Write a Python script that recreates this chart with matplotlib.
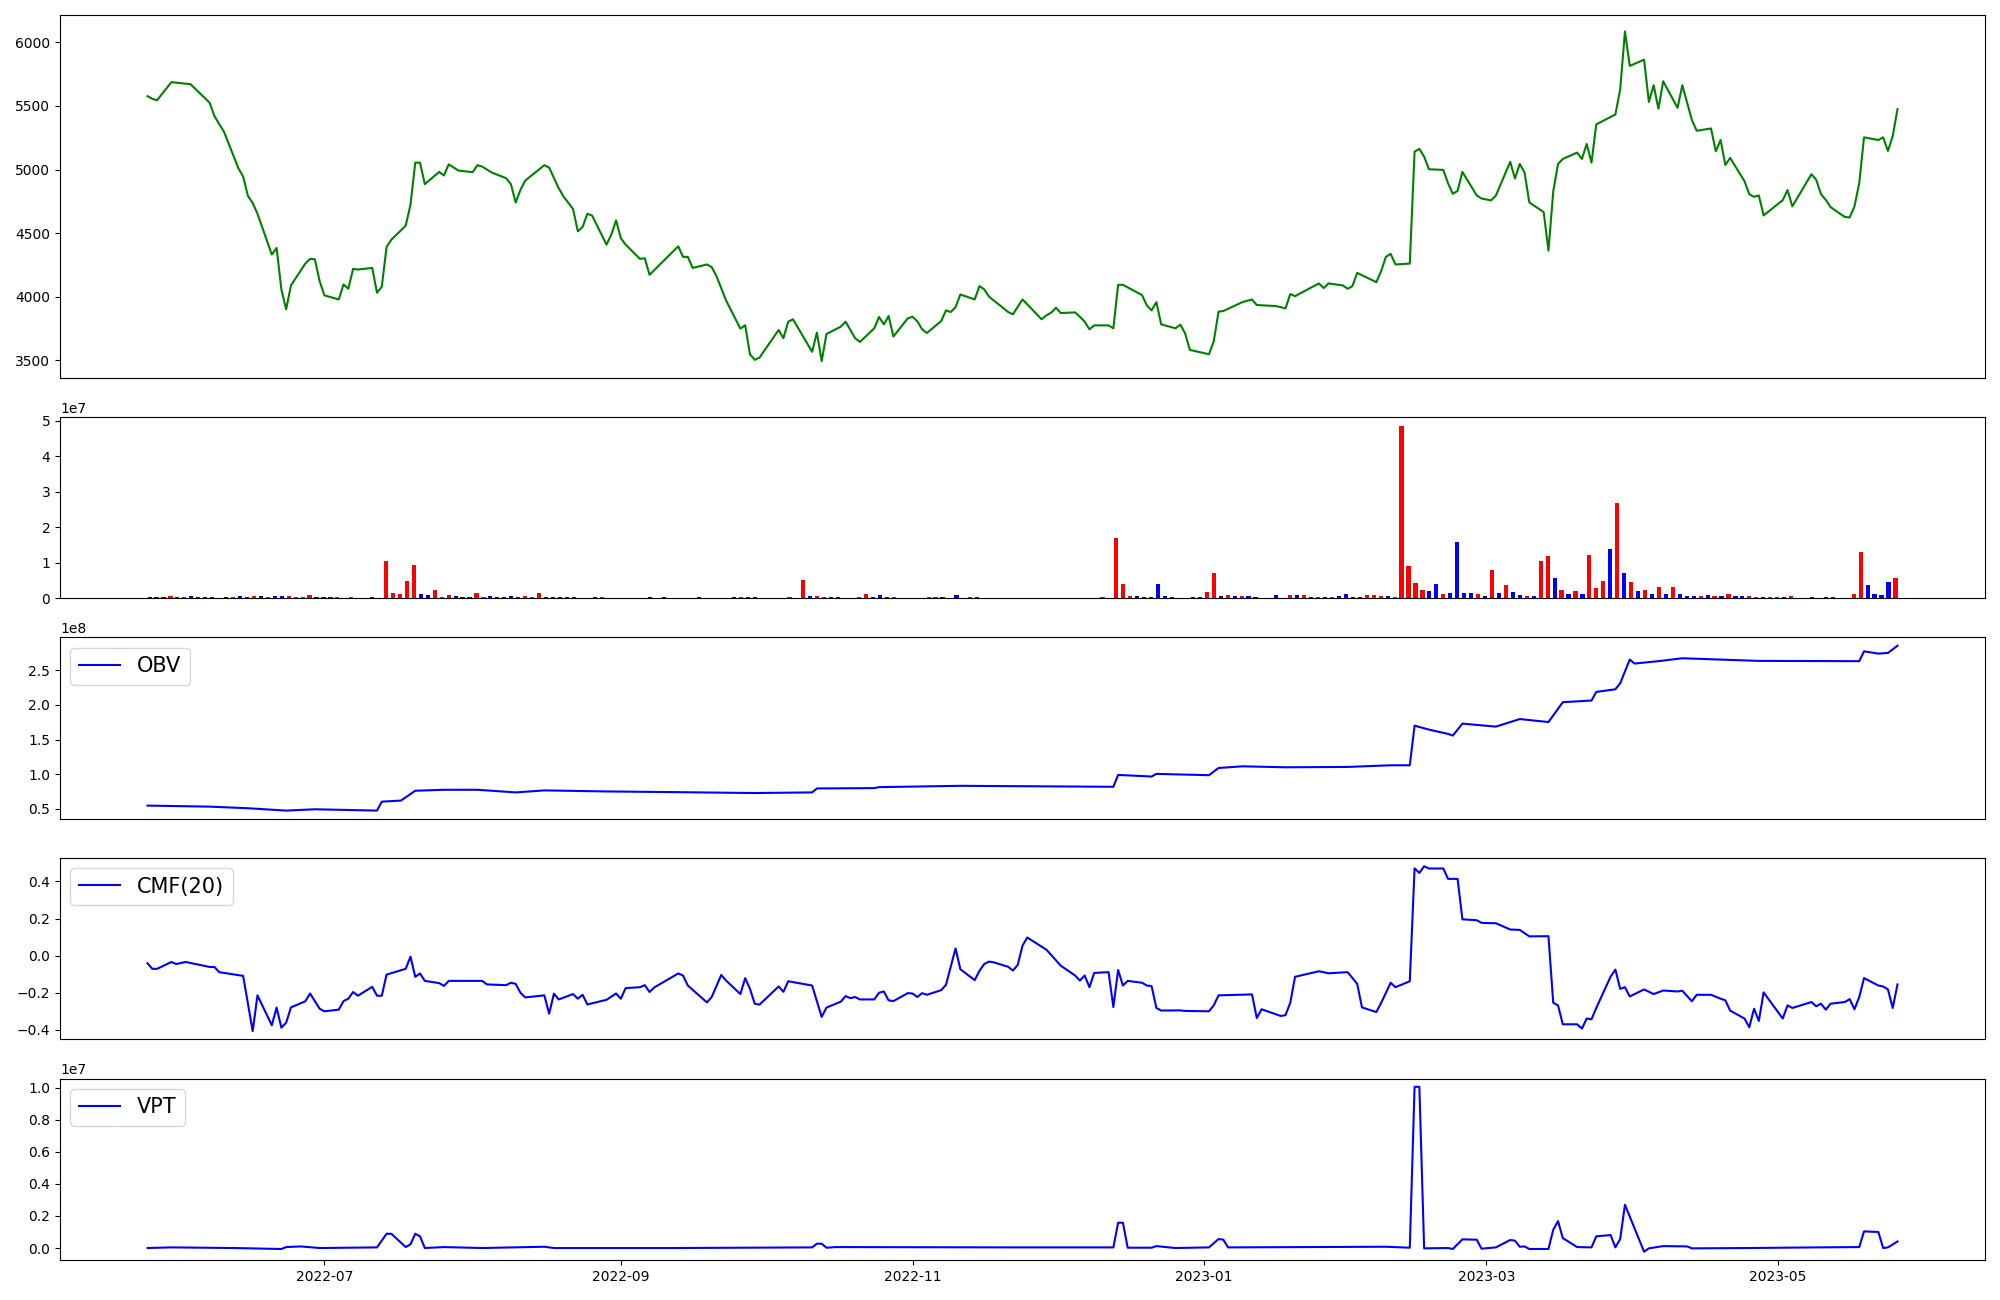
import matplotlib
matplotlib.use("Agg")
import matplotlib.pyplot as plt
import numpy as np
import pandas as pd

START = pd.Timestamp("2022-05-25")  # day 0 of the day-offset lists below

# ---- close price (day offset from 2022-05-25, value) ----
price_day = [0, 1, 2, 5, 9, 13, 14, 15, 16, 19, 20, 21, 22, 23, 26, 27, 28, 29, 30, 33,
             34, 35, 36, 37, 40, 41, 42, 43, 44, 47, 48, 49, 50, 51, 54, 55, 56, 57, 58, 61,
             62, 63, 65, 68, 69, 70, 72, 75, 76, 77, 78, 79, 83, 84, 86, 87, 89, 90, 91, 92,
             93, 96, 97, 98, 99, 100, 103, 104, 105, 111, 112, 113, 114, 117, 118, 119, 121, 124, 125, 126,
             127, 128, 132, 133, 134, 135, 139, 140, 141, 142, 145, 146, 148, 149, 152, 153, 154, 155, 156, 159,
             160, 161, 162, 163, 166, 167, 168, 169, 170, 173, 174, 175, 176, 180, 181, 183, 187, 188, 189, 190,
             191, 194, 195, 196, 197, 198, 201, 202, 203, 204, 208, 209, 210, 211, 212, 215, 216, 217, 218, 222,
             223, 224, 225, 229, 231, 232, 236, 238, 239, 240, 245, 246, 247, 250, 251, 252, 253, 257, 258, 259,
             260, 261, 264, 265, 266, 267, 268, 271, 272, 273, 274, 275, 278, 279, 281, 282, 285, 286, 287, 288,
             289, 292, 293, 294, 295, 296, 299, 300, 301, 302, 303, 307, 308, 309, 310, 313, 314, 315, 316, 317,
             320, 321, 323, 324, 327, 328, 329, 330, 331, 334, 335, 336, 337, 338, 342, 343, 344, 348, 349, 350,
             351, 352, 355, 356, 357, 358, 359, 362, 363, 364, 365, 366]
price_close = [5577, 5556, 5545, 5687, 5671, 5525, 5420, 5357, 5297, 5010, 4945, 4793, 4736, 4652, 4331, 4383, 4057, 3900, 4088, 4260,
               4297, 4294, 4122, 4010, 3978, 4096, 4062, 4219, 4213, 4226, 4031, 4078, 4391, 4448, 4558, 4723, 5054, 5054, 4885, 4981,
               4953, 5041, 4992, 4979, 5034, 5023, 4976, 4932, 4885, 4741, 4840, 4913, 5034, 5015, 4853, 4788, 4689, 4514, 4548, 4652,
               4637, 4409, 4488, 4600, 4459, 4409, 4297, 4302, 4172, 4396, 4313, 4313, 4226, 4253, 4232, 4161, 3970, 3748, 3775, 3547,
               3503, 3521, 3738, 3673, 3803, 3822, 3566, 3717, 3492, 3706, 3764, 3803, 3673, 3644, 3751, 3840, 3782, 3848, 3686, 3829,
               3842, 3806, 3743, 3714, 3808, 3892, 3879, 3918, 4017, 3978, 4083, 4057, 4000, 3879, 3861, 3978, 3822, 3853, 3874, 3913,
               3871, 3876, 3842, 3803, 3743, 3774, 3774, 3751, 4093, 4093, 4012, 3931, 3892, 3957, 3782, 3751, 3780, 3712, 3581, 3547,
               3649, 3882, 3887, 3957, 3978, 3934, 3926, 3908, 4020, 4004, 4104, 4067, 4104, 4088, 4062, 4083, 4187, 4114, 4200, 4313,
               4336, 4253, 4260, 5141, 5162, 5101, 5002, 4997, 4892, 4809, 4832, 4981, 4796, 4772, 4757, 4795, 5060, 4929, 5044, 4976,
               4741, 4665, 4362, 4827, 5044, 5083, 5133, 5083, 5201, 5054, 5355, 5433, 5629, 6086, 5815, 5864, 5532, 5663, 5478, 5694,
               5485, 5663, 5389, 5305, 5323, 5143, 5232, 5036, 5091, 4908, 4806, 4785, 4796, 4639, 4759, 4838, 4710, 4963, 4919, 4806,
               4762, 4704, 4626, 4623, 4710, 4893, 5253, 5232, 5253, 5146, 5263, 5475]

# ---- volume per trading session (millions) and bar colour (r = up, b = down) ----
volume_m = [0.3, 0.3, 0.3, 0.6, 0.3, 0.3, 0.6, 0.3, 0.3, 0.3,
            0, 0.3, 0.3, 0.6, 0.3, 0.6, 0.6, 0.3, 0.6, 0.6,
            0.6, 0.3, 0.3, 0.8, 0.3, 0.3, 0.3, 0.3, 0, 0.3,
            0, 0, 0.3, 0, 10.4, 1.4, 1.1, 5.0, 9.3, 1.1,
            0.8, 2.2, 0.3, 0.8, 0.6, 0.3, 0.3, 1.4, 0.3, 0.6,
            0.3, 0.3, 0.6, 0.3, 0.6, 0.3, 1.4, 0.3, 0.3, 0.3,
            0.3, 0.3, 0, 0, 0.3, 0.3, 0, 0, 0, 0,
            0, 0, 0.3, 0, 0.3, 0, 0, 0, 0, 0.3,
            0, 0, 0, 0, 0.3, 0.3, 0.3, 0.3, 0, 0,
            0, 0, 0.3, 0, 5.1, 0.6, 0.6, 0.3, 0.3, 0.3,
            0, 0, 0.3, 1.1, 0.3, 0.8, 0.3, 0.3, 0, 0,
            0, 0, 0.3, 0.3, 0.3, 0, 0.8, 0, 0.3, 0.3,
            0, 0, 0, 0, 0, 0, 0, 0, 0, 0,
            0, 0, 0, 0, 0, 0, 0, 0.3, 0, 16.9,
            3.9, 0.6, 0.6, 0.3, 0.3, 3.9, 0.6, 0.3, 0, 0,
            0.3, 0.3, 1.7, 7.0, 0.6, 0.8, 0.6, 0.6, 0.6, 0.3,
            0, 0, 0.8, 0, 0.8, 0.8, 0.8, 0.3, 0.3, 0.3,
            0.3, 0.6, 1.1, 0.3, 0.3, 0.8, 0.8, 0.6, 0.6, 0.3,
            48.6, 9.0, 4.2, 2.2, 2.0, 3.9, 1.1, 1.4, 15.7, 1.4,
            1.4, 1.1, 0.6, 7.9, 1.4, 3.7, 1.7, 0.8, 0.6, 0.6,
            10.4, 11.8, 5.6, 2.2, 1.1, 2.0, 1.1, 12.1, 2.8, 4.8,
            13.8, 26.7, 7.0, 4.5, 2.0, 2.2, 1.1, 3.1, 1.1, 3.1,
            1.1, 0.6, 0.6, 0.6, 0.8, 0.6, 0.6, 1.1, 0.6, 0.6,
            0.6, 0.3, 0.3, 0.3, 0.3, 0.3, 0.6, 0, 0, 0.3,
            0, 0.3, 0.3, 0, 0, 1.1, 12.9, 3.7, 1.1, 0.8,
            4.5, 5.6]
volume_dir = ("bbbrbrbbbb" "bbrbbrbrbb" "rrrrbbbrbr" "bbbbrrrrrb" "brrrbbbrrb"
              "bbbbrrrbbb" "bbbbbrbbbb" "bbbbbbbbbb" "bbbbbrbbbb" "bbrbrbrrbb"
              "bbrrbbbrbb" "bbrrbbbbrb" "bbbbbbbbbb" "bbbbbbbrbr" "rrbbbbbbbb"
              "bbrrbrbrbb" "bbbbrbrbrb" "rbbbbrrrbr" "rrrrbbrbbb" "brbrbrbbrb"
              "rrbrbrbrrr" "brbrbrbrbr" "bbbrbrbrbb" "rrbrrbrbbb" "bbbbbrrbbb"
              "br")

# ---- OBV (x1e8) ----
obv_day = [0, 13, 21, 29, 35, 48, 49, 53, 56, 62, 69, 77, 83, 96, 109, 127, 139, 140, 152, 153,
           170, 202, 203, 210, 211, 222, 224, 229, 238, 251, 260, 264, 265, 268, 272, 273, 275, 282, 287, 293,
           296, 302, 303, 307, 308, 310, 311, 316, 321, 337, 358, 359, 362, 364, 366]
obv_val = [0.548, 0.533, 0.51, 0.476, 0.495, 0.476, 0.605, 0.62, 0.762, 0.776, 0.776, 0.738, 0.767, 0.752, 0.743, 0.729, 0.738, 0.795, 0.80, 0.814,
           0.833, 0.819, 0.99, 0.967, 1.005, 0.986, 1.09, 1.114, 1.10, 1.105, 1.129, 1.129, 1.70, 1.643, 1.581, 1.557, 1.729, 1.686, 1.795, 1.752,
           2.038, 2.062, 2.186, 2.224, 2.31, 2.652, 2.595, 2.629, 2.671, 2.633, 2.629, 2.771, 2.738, 2.748, 2.852]

# ---- CMF(20) ----
cmf_day = [0, 1, 2, 5, 6, 8, 13, 14, 15, 20, 22, 23, 26, 27, 28, 29, 30, 33, 34, 36,
           37, 40, 41, 42, 43, 44, 47, 48, 49, 50, 54, 55, 56, 57, 58, 61, 62, 63, 70, 71,
           75, 76, 77, 78, 79, 83, 84, 85, 86, 89, 90, 91, 92, 96, 98, 99, 100, 103, 104, 105,
           106, 111, 112, 113, 117, 118, 120, 121, 124, 125, 126, 127, 128, 132, 133, 134, 139, 141, 142, 145,
           146, 147, 148, 149, 152, 153, 154, 155, 156, 159, 160, 161, 162, 163, 166, 167, 169, 170, 173, 174,
           175, 176, 177, 180, 181, 182, 183, 184, 188, 189, 191, 194, 195, 196, 197, 198, 201, 202, 203, 204,
           205, 208, 209, 210, 211, 212, 216, 217, 222, 223, 224, 231, 232, 233, 237, 238, 239, 240, 245, 247,
           251, 253, 254, 257, 258, 260, 261, 264, 265, 266, 267, 268, 271, 272, 274, 275, 278, 279, 281, 282,
           285, 287, 289, 293, 294, 295, 296, 299, 300, 301, 302, 303, 306, 307, 308, 309, 310, 313, 315, 317,
           320, 321, 323, 324, 327, 329, 330, 331, 334, 335, 336, 337, 338, 342, 343, 344, 348, 349, 350, 351,
           352, 355, 356, 357, 358, 359, 362, 363, 364, 365, 366]
cmf_val = [-0.041, -0.071, -0.071, -0.034, -0.045, -0.034, -0.061, -0.061, -0.089, -0.109, -0.407, -0.214, -0.375, -0.28, -0.388, -0.361, -0.279, -0.246, -0.204, -0.286,
           -0.30, -0.291, -0.245, -0.232, -0.196, -0.216, -0.168, -0.216, -0.216, -0.102, -0.071, -0.005, -0.114, -0.096, -0.136, -0.148, -0.163, -0.136, -0.136, -0.155,
           -0.159, -0.146, -0.152, -0.20, -0.225, -0.214, -0.313, -0.205, -0.236, -0.207, -0.232, -0.211, -0.263, -0.238, -0.204, -0.232, -0.175, -0.170, -0.159, -0.196,
           -0.171, -0.096, -0.107, -0.161, -0.252, -0.223, -0.104, -0.134, -0.207, -0.121, -0.179, -0.259, -0.264, -0.166, -0.195, -0.138, -0.161, -0.330, -0.280, -0.248,
           -0.218, -0.229, -0.223, -0.236, -0.236, -0.200, -0.193, -0.241, -0.245, -0.202, -0.204, -0.223, -0.202, -0.211, -0.186, -0.157, 0.039, -0.073, -0.132, -0.082,
           -0.045, -0.032, -0.036, -0.060, -0.080, -0.050, 0.054, 0.098, 0.032, 0.004, -0.054, -0.107, -0.134, -0.107, -0.170, -0.093, -0.089, -0.277, -0.077, -0.161,
           -0.136, -0.146, -0.161, -0.164, -0.282, -0.296, -0.295, -0.298, -0.300, -0.268, -0.214, -0.209, -0.336, -0.289, -0.325, -0.321, -0.254, -0.114, -0.084, -0.095,
           -0.089, -0.152, -0.279, -0.304, -0.255, -0.146, -0.170, -0.138, 0.471, 0.446, 0.482, 0.470, 0.470, 0.414, 0.414, 0.196, 0.191, 0.177, 0.175, 0.175,
           0.141, 0.139, 0.104, 0.105, -0.254, -0.268, -0.370, -0.370, -0.393, -0.339, -0.343, -0.282, -0.113, -0.075, -0.179, -0.170, -0.220, -0.182, -0.207, -0.188,
           -0.193, -0.189, -0.246, -0.211, -0.211, -0.232, -0.241, -0.296, -0.339, -0.386, -0.286, -0.352, -0.198, -0.339, -0.268, -0.282, -0.250, -0.273, -0.259, -0.291,
           -0.259, -0.250, -0.234, -0.289, -0.223, -0.121, -0.161, -0.166, -0.182, -0.282, -0.155]

# ---- VPT (x1e7) ----
vpt_day = [0, 5, 18, 28, 29, 32, 36, 48, 50, 51, 54, 55, 56, 57, 58, 62, 70, 83, 85, 110,
           139, 140, 141, 142, 144, 180, 202, 203, 204, 205, 210, 211, 215, 222, 224, 225, 226, 259, 264, 265,
           266, 267, 272, 273, 275, 278, 279, 282, 285, 286, 287, 288, 289, 293, 294, 295, 296, 299, 302, 303,
           306, 307, 308, 309, 313, 314, 317, 322, 323, 335, 349, 358, 359, 362, 363, 364, 366]
vpt_val = [0.0, 0.004, 0.0, -0.006, 0.006, 0.010, 0.0, 0.004, 0.089, 0.089, 0.006, 0.023, 0.089, 0.073, 0.0, 0.006, 0.0, 0.008, 0.0, 0.0,
           0.004, 0.027, 0.027, 0.002, 0.006, 0.004, 0.004, 0.158, 0.158, 0.002, 0.002, 0.012, 0.0, 0.004, 0.056, 0.052, 0.004, 0.008, 0.002, 1.006,
           1.006, -0.002, 0.0, -0.006, 0.054, 0.052, -0.004, 0.004, 0.050, 0.046, 0.008, 0.010, -0.006, -0.006, 0.114, 0.168, 0.062, 0.006, 0.004, 0.073,
           0.081, 0.004, 0.056, 0.270, -0.023, -0.002, 0.012, 0.010, -0.002, 0.0, 0.004, 0.006, 0.104, 0.100, 0.0, 0.004, 0.041]


def to_dates(days):
    return START + pd.to_timedelta(np.asarray(days), unit="D")


fig, axes = plt.subplots(5, 1, figsize=(20, 13), dpi=100,
                         gridspec_kw={"height_ratios": [2, 1, 1, 1, 1]})
fig.subplots_adjust(left=0.03, right=0.9925, top=0.9885, bottom=0.0308, hspace=0.18)
ax1, ax2, ax3, ax4, ax5 = axes

ax1.plot(to_dates(price_day), price_close, color="green")
ax1.set_xticks([])

vol = np.array(volume_m) * 1e6
cols = ["red" if c == "r" else "blue" for c in volume_dir]
ax2.bar(np.arange(len(vol)), vol, width=0.6, color=cols)
ax2.set_xticks([])

ax3.plot(to_dates(obv_day), np.array(obv_val) * 1e8, color="blue", label="OBV")
ax3.legend(loc="upper left", fontsize=15)
ax3.set_xticks([])

ax4.plot(to_dates(cmf_day), cmf_val, color="blue", label="CMF(20)")
ax4.legend(loc="upper left", fontsize=15)
ax4.set_xticks([])

ax5.plot(to_dates(vpt_day), np.array(vpt_val) * 1e7, color="blue", label="VPT")
ax5.legend(loc="upper left", fontsize=15)

fig.savefig("out.png", dpi=100)
